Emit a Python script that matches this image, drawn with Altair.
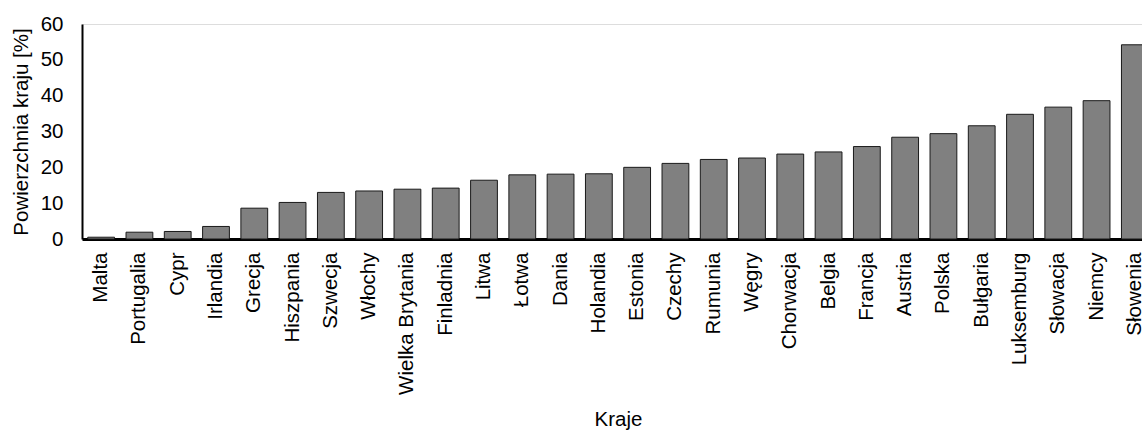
import altair as alt
import pandas as pd

countries = ["Malta", "Portugalia", "Cypr", "Irlandia", "Grecja", "Hiszpania",
             "Szwecja", "Włochy", "Wielka Brytania", "Finladnia", "Litwa", "Łotwa",
             "Dania", "Holandia", "Estonia", "Czechy", "Rumunia", "Węgry",
             "Chorwacja", "Belgia", "Francja", "Austria", "Polska", "Bułgaria",
             "Luksemburg", "Słowacja", "Niemcy", "Słowenia"]
values = [0.5, 1.9, 2.1, 3.5, 8.6, 10.2,
          13.0, 13.4, 13.9, 14.2, 16.4, 17.9,
          18.1, 18.2, 20.0, 21.1, 22.2, 22.6,
          23.7, 24.3, 25.8, 28.4, 29.4, 31.6,
          34.8, 36.8, 38.6, 54.2]
y_ticks = [0, 10, 20, 30, 40, 50, 60]

df = pd.DataFrame({"kraj": countries, "wartosc": values})

FONT = "Liberation Sans"
FS = 20.5

chart = alt.Chart(df).mark_bar(
    color="#808080", stroke="#1a1a1a", strokeWidth=1
).encode(
    x=alt.X("kraj:N", sort=countries, title="Kraje",
            scale=alt.Scale(paddingInner=0.3, paddingOuter=0.15, range=[0, 1072]),
            axis=alt.Axis(labelAngle=-90, labelAlign="right", labelBaseline="middle",
                          ticks=False, labelPadding=13, titlePadding=15,
                          domainColor="black", domainWidth=3,
                          labelFontSize=FS, titleFontSize=FS, labelFont=FONT, titleFont=FONT,
                          labelColor="black", titleColor="black", titleFontWeight="normal",
                          labelLimit=0)),
    y=alt.Y("wartosc:Q", title="Powierzchnia kraju [%]",
            scale=alt.Scale(domain=[0, 60], nice=False),
            axis=alt.Axis(values=y_ticks, ticks=False, grid=False, labelPadding=19,
                          titlePadding=9, domainColor="black", domainWidth=2,
                          labelFontSize=FS, titleFontSize=FS, labelFont=FONT, titleFont=FONT,
                          labelColor="black", titleColor="black", titleFontWeight="normal")),
).properties(
    width=1060, height=215,
    autosize=alt.AutoSizeParams(type="none"),
    padding={"left": 82, "top": 24, "right": 0, "bottom": 192}
).configure_view(stroke=None).configure(background="white")

chart.save("out.html", embed_options={"renderer": "svg", "actions": False})
